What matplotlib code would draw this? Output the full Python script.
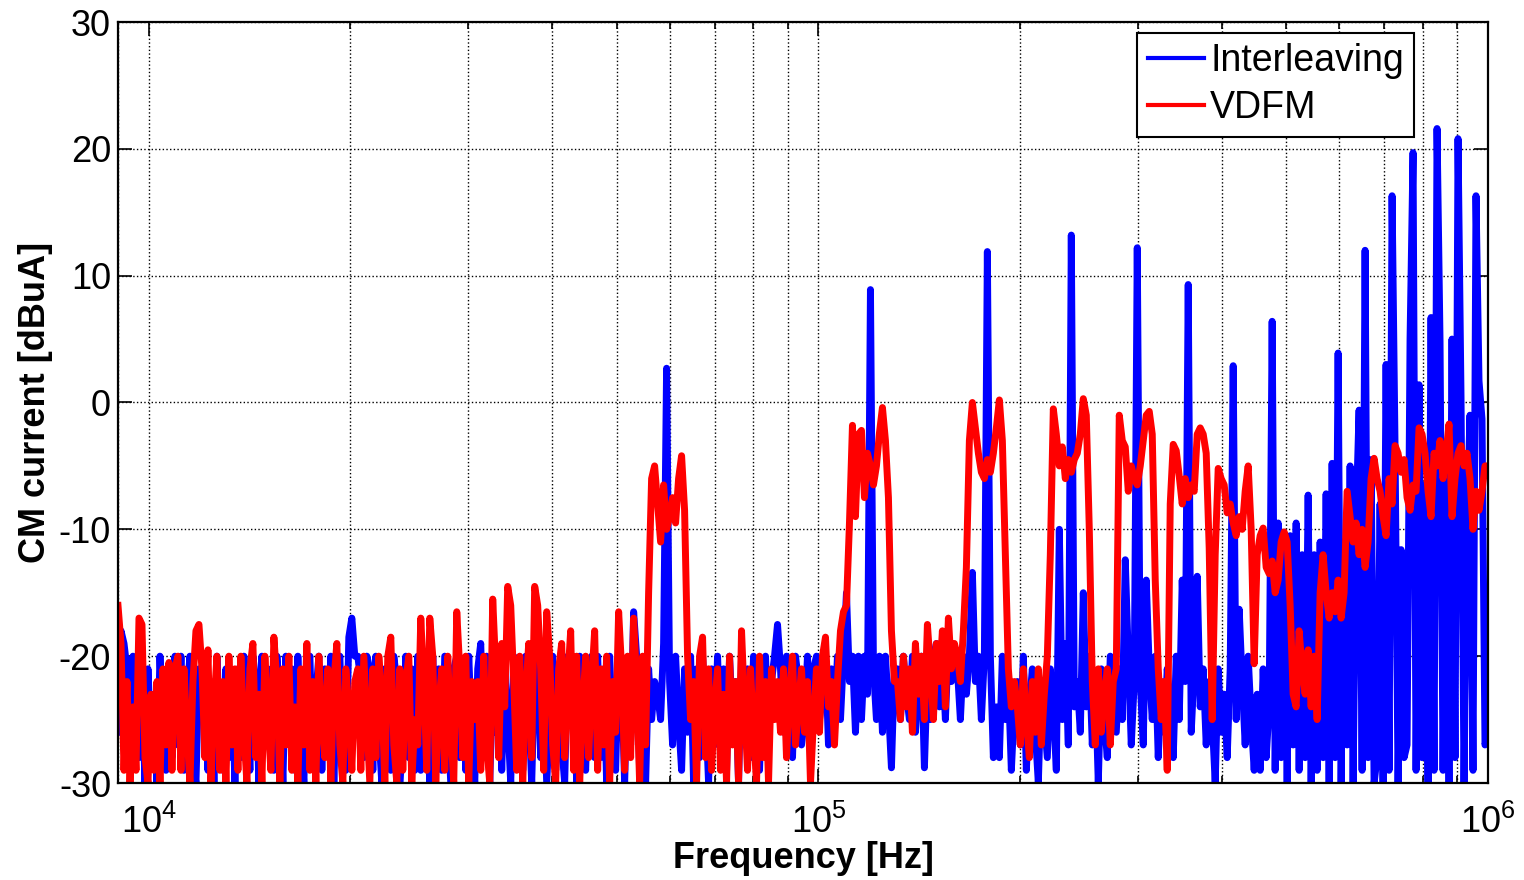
import matplotlib
matplotlib.use('Agg')
import matplotlib.pyplot as plt
import numpy as np

plt.rcParams['font.family'] = ['Liberation Sans', 'DejaVu Sans']
plt.rcParams['axes.unicode_minus'] = False
plt.rcParams['mathtext.default'] = 'regular'

# CM current spectra [dBuA], sampled on a log frequency axis 9 kHz .. 1 MHz
interleaving = [
    -26, -18, -19, -21, -29, -20, -25, -28, -22, -30, -21, -27, -23, -30, -20, -26, -29, -22, -28, -20,
    -27, -20, -29, -23, -20, -28, -30, -21, -25, -20, -29, -22, -30, -20, -26, -29, -21, -28, -22, -30,
    -21, -28, -20, -24, -29, -20, -22, -30, -20, -27, -21, -26, -29, -20, -23, -30, -20, -25, -21, -29,
    -20, -26, -30, -21, -20, -28, -23, -20, -29, -21, -25, -20, -30, -22, -20, -27, -29, -18.5, -17, -20,
    -20, -22, -28, -20, -21, -29, -20, -26, -30, -21, -24, -29, -20, -22, -30, -27, -20, -28, -21, -29,
    -20, -29, -21, -24, -30, -20, -27, -21, -29, -20, -25, -30, -21, -20, -28, -22, -29, -20, -26, -30,
    -21, -19, -28, -20, -30, -22, -26, -20, -29, -21, -25, -30, -20, -27, -21, -29, -20, -24, -30, -21,
    -20, -28, -22, -30, -25, -20, -29, -21, -27, -30, -20, -24, -21, -30, -20, -27, -29, -21, -20, -28,
    -20, -28, -21, -30, -20, -26, -29, -20, -22, -30, -21, -27, -16.5, -20, -29, -23, -30, -21, -25, -22,
    -23, -25, -19, 2.7, -22, -27, -20, -25, -29, -21, -26, -20, -30, -21, -28, -20, -24, -30, -21, -27,
    -20, -27, -21, -29, -20, -25, -22, -30, -20, -26, -21, -28, -20, -23, -29, -21, -20, -27, -22, -20,
    -17.5, -21, -26, -20, -24, -28, -20, -22, -27, -25, -20, -26, -21, -20, -25, -23, -20, -27, -21, -25,
    -20, -25, -20, -15, -22, -20, -26, -20, -25, -20, -23, 8.9, -21, -25, -20, -26, -20, -24, -28.8, -21,
    -21, -25, -20, -23, -25, -20, -26, -22, -20, -28.8, -21, -25, -20, -19, -24, -20, -25, -19, -22, -20,
    -21, -25, -20, -23, -20, -13.4, -22, -20, -25, -20, 11.9, -20, -28, -24, -28, -20, -25, -22, -29, -24,
    -22, -27, -20, -29, -24, -21, -26, -30, -22, -25, -28, -21, -24, -29, -10, -25, -19, -27, 13.2, -24,
    -22, -26, -15, -24, -20, -27, -22, -30, -21, -25, -28, -20, -23, -26, -21, -25, -12.4, -20, -27, -22,
    12.2, -22, -27, -14, -21, -25, -20, -28, -22, -26, -21, -24, -28, -20, -25, -14, -22, 9.3, -26, -21,
    -13.7, -24, -21, -27, -22, -25, -30, -21, -26, -23, -28, -21, 2.9, -25, -16.3, -22, -27, -20, -25, -29,
    -23, -29, -21, -28, -24, 6.4, -29, -9.5, -28, -11, -30, -10.5, -27, -9.5, -29, -12, -28, -7.3, -30, -12,
    -29, -11, -28, -7.2, -30, -4.8, -28, 3.9, -30, -11, -27, -5, -30, -9, -0.6, -29, 12, -28, -4.5, -30,
    -28, -8, -30, 3, -29, 16.3, -3.7, -30, -11.6, -28, -27, 5, 19.7, -29, 1.4, -28, -6.5, -30, 6.7, -29,
    21.6, 4.8, -29, -4.4, -30, 5, -28, 20.8, 0.4, -30, -9.6, -1, -29, 16.3, 1.7, -1.3, -27, -26,
]

vdfm = [
    -16, -19, -29, -22, -30, -24, -29, -17, -17.5, -28, -30, -23, -29, -22, -30, -21, -27, -20.5, -29, -21,
    -20, -29, -21, -26, -30, -22, -18, -17.5, -21, -28, -19.5, -30, -24, -20, -29, -22, -30, -20, -27, -21,
    -29, -20, -26, -30, -21, -19, -28, -23, -30, -20, -25, -29, -18.5, -22, -30, -21, -27, -20, -29, -24,
    -30, -21, -27, -19, -29, -22, -30, -20, -25, -28, -21, -30, -22, -19, -27, -30, -21, -24, -29, -22,
    -21, -29, -20, -25, -30, -21, -28, -20, -23, -30, -20, -18.5, -27, -30, -21, -29, -22, -20, -30, -25,
    -27, -17, -22, -29, -17, -20, -30, -24, -21, -29, -20, -26, -30, -16.5, -21, -28, -20, -30, -22, -25,
    -22, -29, -20, -27, -30, -15.5, -21, -28, -19, -24, -14.5, -16, -22, -29, -20, -30, -23, -19, -28, -14.5,
    -16, -21, -29, -16.5, -20, -27, -30, -21, -19, -28, -22, -18, -29, -20, -30, -24, -20, -28, -22, -18,
    -29, -21, -27, -20, -30, -22, -26, -16.5, -21, -29, -20, -28, -17, -22, -30, -20, -27, -15, -6, -5,
    -8, -11, -6.5, -10, -9, -7.5, -9.5, -6, -4.2, -8.5, -20, -25, -22, -30, -20, -18.5, -28, -21, -29, -24,
    -21, -29, -23, -30, -20, -27, -22, -30, -18, -24, -29, -21, -26, -30, -20, -28, -22, -30, -21, -25,
    -22, -26, -21, -28, -23, -20, -27, -24, -21, -26, -22, -30, -25, -21, -26, -20, -18.5, -24, -22, -27,
    -22, -18, -16.5, -16, -9.5, -1.8, -9, -2.5, -2.2, -7.5, -4, -5, -6.5, -5, -2.4, -0.4, -3, -7.5, -18, -22,
    -22, -25, -20, -24, -21, -26, -19, -23, -20, -25, -17.5, -21, -25, -19, -22, -18, -24, -17, -21, -19,
    -20, -22, -18, -13, -3, 0, -2, -4, -5.5, -6, -4.5, -5.5, -4, -2, 0.2, -3, -12, -21, -24, -22,
    -24, -27, -21, -25, -28, -22, -26, -21, -27, -23, -20, -12, -0.5, -2.5, -5, -3.5, -6, -4.5, -5.5, -4.5,
    -4, -2.5, 0.3, -1, -10, -22, -27, -21, -26, -23, -21, -27, -22, -21, -1, -3, -3.5, -7, -5, -6,
    -6.5, -5, -3, -1, -0.7, -2.5, -14, -21, -25, -22, -29, -8, -3.3, -3.8, -5.8, -8, -6, -7.5, -6.5, -7,
    -2.5, -2, -2.5, -4, -11.5, -25, -12, -5.2, -6, -6.5, -8.7, -8, -9.5, -10.5, -9, -10, -7, -5, -10, -20.6,
    -12, -10.5, -9.9, -13, -13.5, -12.5, -15, -14, -11, -10.2, -11, -16, -23, -24, -18, -21, -23, -19.5, -24, -20,
    -25, -15, -12, -15, -17, -15, -16.5, -14, -17, -15, -7, -9, -11, -9.5, -12, -10, -13, -11, -6, -4.4,
    -6, -7, -9, -10.5, -6, -8, -3.4, -4, -5.5, -4.5, -7.5, -8.5, -6.5, -7, -2, -2.5, -4, -7, -9, -4,
    -5, -3, -6, -4, -1.7, -9, -6, -4, -3.4, -5, -4, -6, -10, -7, -8.5, -7, -5, -5,
]

f_start = 9e3
f_stop = 1e6
freq = np.logspace(np.log10(f_start), np.log10(f_stop), len(interleaving))

fig = plt.figure(figsize=(15.24, 8.8), dpi=100)
ax = fig.add_axes([118/1524, 1-783/880, 1370/1524, 761/880])

ax.semilogx(freq, interleaving, color=(0, 0, 1), lw=5.0, label='Interleaving')
ax.semilogx(freq, vdfm, color=(1, 0, 0), lw=5.0, label='VDFM')

ax.set_xlim(f_start, f_stop)
ax.set_ylim(-30, 30)
ax.set_yticks([-30, -20, -10, 0, 10, 20, 30])

ax.grid(True, which='both', axis='x', ls=':', color='k', lw=1.0)
ax.grid(True, which='major', axis='y', ls=':', color='k', lw=1.0)

ax.tick_params(which='both', direction='in', top=True, right=True, labelsize=26, width=1.2)
ax.tick_params(axis='x', which='both', pad=16)
ax.tick_params(axis='y', which='both', pad=5)
ax.tick_params(which='major', length=10)
ax.tick_params(which='minor', length=5)
for s in ax.spines.values():
    s.set_linewidth(1.6)

ax.set_xlabel('Frequency [Hz]', fontsize=26, fontweight='bold', labelpad=0)
ax.set_ylabel('CM current [dBuA]', fontsize=26, fontweight='bold', labelpad=4)

leg = ax.legend(loc='upper right', bbox_to_anchor=(0.946, 0.9855), borderaxespad=0,
                fontsize=27, fancybox=False, framealpha=1, edgecolor='k',
                handlelength=1.5, handletextpad=0.17, borderpad=0.27, labelspacing=0.3)
leg.get_frame().set_linewidth(1.5)
for h in leg.get_lines():
    h.set_linewidth(3.0)

fig.savefig('out.png', dpi=100)
print('success')
